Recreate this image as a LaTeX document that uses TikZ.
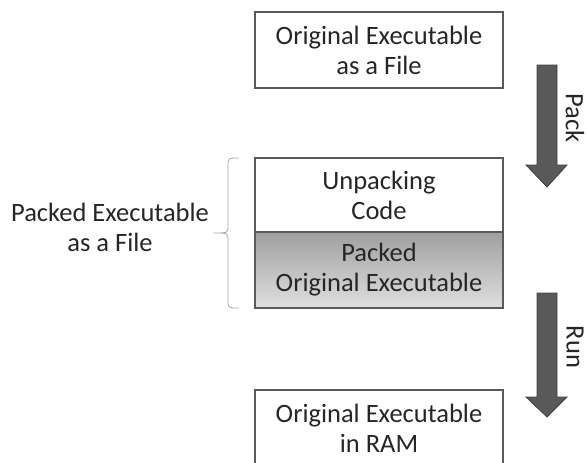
\documentclass[tikz,border=0pt]{standalone}
\usepackage{fontspec}
\setmainfont{Carlito}
\usepackage{tikz}

\definecolor{boxline}{HTML}{5A5A5A}
\definecolor{arrowfill}{HTML}{595959}
\definecolor{arrowline}{HTML}{404040}
\definecolor{textgray}{HTML}{262626}

\tikzset{
  exebox/.style={draw=boxline, line width=1.6pt, minimum width=248pt, align=center,
    text=textgray, font=\fontsize{26.5}{30}\selectfont, inner sep=0pt},
  bigarrow/.style={fill=arrowfill, draw=arrowline, line width=0.8pt},
  sidelabel/.style={text=textgray, font=\fontsize{26.5}{30}\selectfont, align=center}
}

\begin{document}
\begin{tikzpicture}[x=1pt,y=-1pt]
\useasboundingbox (0,0) rectangle (587,463);
\clip (0,0) rectangle (587,463);

%Boxes on the right
\node[exebox, minimum height=76pt] (orig) at (379,50) {Original Executable\\as a File};
\node[exebox, minimum height=74pt] (unpack) at (379,195) {Unpacking\\Code};
\node[exebox, minimum height=76pt, top color=gray!75, bottom color=gray!25] (packed) at (379,270) {Packed\\Original Executable};
\node[exebox, minimum height=76pt] (ram) at (379,428) {Original Executable\\in RAM};

%Block arrows
\filldraw[bigarrow] (537,65) -- (557,65) -- (557,165) -- (567,165) -- (547,187) -- (526,165) -- (537,165) -- cycle;
\node[sidelabel, rotate=-90] (pack) at (575,118) {Pack};
\filldraw[bigarrow] (537,293) -- (557,293) -- (557,397) -- (567,397) -- (547,417) -- (526,397) -- (537,397) -- cycle;
\node[sidelabel, rotate=-90] (run) at (575,347) {Run};

%Brace and its label
\draw[gray!70, line width=0.8pt] (239,158) .. controls (228,158) .. (228,166) -- (228,226) .. controls (228,233) .. (213,233)
  .. controls (228,233) .. (228,240) -- (228,300) .. controls (228,308) .. (239,308);
\node[sidelabel] (whole) at (110,227) {Packed Executable\\as a File};

\end{tikzpicture}
\end{document}
